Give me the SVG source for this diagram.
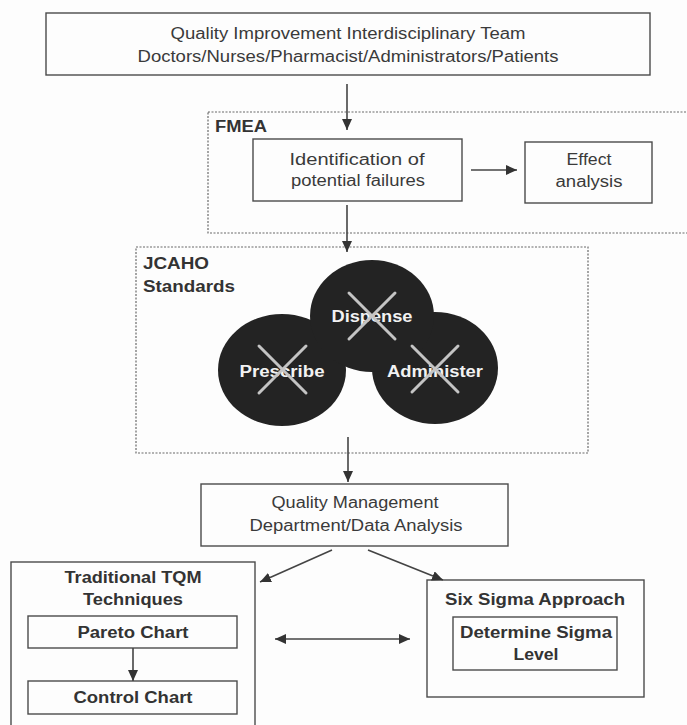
<svg xmlns="http://www.w3.org/2000/svg" width="687" height="725" viewBox="0 0 687 725">
<style>
.box{fill:none;stroke:#4a4a4a;stroke-width:1.4}
.dash{fill:none;stroke:#6a6a6a;stroke-width:1.2;stroke-dasharray:2,1.5}
.t{font-family:"Liberation Sans",Arial,sans-serif;font-size:16px;fill:#3a3a3a;text-anchor:middle}
.b{font-family:"Liberation Sans",Arial,sans-serif;font-size:16px;font-weight:bold;fill:#333}
.bc{text-anchor:middle}
.w{font-family:"Liberation Sans",Arial,sans-serif;font-size:16px;font-weight:bold;fill:#f2f2f2;text-anchor:middle}
.ln{stroke:#444;stroke-width:1.6;fill:none}
.x{stroke:#c4c4c4;stroke-width:3;stroke-linecap:round}
.c{fill:#232323}
</style>
<defs>
<marker id="ah" markerUnits="userSpaceOnUse" markerWidth="12" markerHeight="10" refX="11" refY="5" orient="auto-start-reverse">
<path d="M0,0 L11,5 L0,10 z" fill="#333"/>
</marker>
</defs>
<rect width="687" height="725" fill="#fdfdfd"/>

<g id="team">
<rect class="box" x="46" y="13" width="604" height="62"/>
<text class="t" x="348" y="39" textLength="355" lengthAdjust="spacingAndGlyphs">Quality Improvement Interdisciplinary Team</text>
<text class="t" x="348" y="62" textLength="421" lengthAdjust="spacingAndGlyphs">Doctors/Nurses/Pharmacist/Administrators/Patients</text>
</g>

<g id="fmea">
<rect class="dash" x="208" y="112" width="484" height="121"/>
<text class="b" x="215" y="132" textLength="52" lengthAdjust="spacingAndGlyphs" fill="#2a2a40">FMEA</text>
</g>

<g id="identification">
<rect class="box" x="253" y="139" width="209" height="62"/>
<text class="t" x="357" y="165" textLength="135" lengthAdjust="spacingAndGlyphs">Identification of</text>
<text class="t" x="358" y="186" textLength="134" lengthAdjust="spacingAndGlyphs">potential failures</text>
</g>

<g id="effect">
<rect class="box" x="525" y="142" width="127" height="61"/>
<text class="t" x="589" y="165" textLength="45" lengthAdjust="spacingAndGlyphs">Effect</text>
<text class="t" x="589" y="187" textLength="67" lengthAdjust="spacingAndGlyphs">analysis</text>
</g>

<g id="jcaho">
<rect class="dash" x="136" y="247" width="452" height="206"/>
<text class="b" x="143" y="269" textLength="66" lengthAdjust="spacingAndGlyphs">JCAHO</text>
<text class="b" x="143" y="292" textLength="92" lengthAdjust="spacingAndGlyphs">Standards</text>
</g>

<g id="prescribe">
<ellipse class="c" cx="282" cy="370" rx="64" ry="56"/>
</g>
<g id="administer">
<ellipse class="c" cx="435" cy="368" rx="63" ry="56"/>
</g>
<g id="dispense">
<ellipse class="c" cx="372" cy="316" rx="62" ry="56"/>
<text class="w" x="372" y="322" textLength="81" lengthAdjust="spacingAndGlyphs">Dispense</text>
<line class="x" x1="349" y1="293" x2="395" y2="339"/>
<line class="x" x1="395" y1="293" x2="349" y2="339"/>
</g>
<g id="prescribe-label">
<text class="w" x="282" y="377" textLength="85" lengthAdjust="spacingAndGlyphs">Prescribe</text>
<line class="x" x1="259" y1="346" x2="306" y2="393"/>
<line class="x" x1="306" y1="346" x2="259" y2="393"/>
</g>
<g id="administer-label">
<text class="w" x="435" y="377" textLength="96" lengthAdjust="spacingAndGlyphs">Administer</text>
<line class="x" x1="412" y1="346" x2="458" y2="392"/>
<line class="x" x1="458" y1="346" x2="412" y2="392"/>
</g>

<g id="qm">
<rect class="box" x="201" y="484" width="307" height="62"/>
<text class="t" x="355" y="508" textLength="167" lengthAdjust="spacingAndGlyphs">Quality Management</text>
<text class="t" x="356" y="531" textLength="213" lengthAdjust="spacingAndGlyphs">Department/Data Analysis</text>
</g>

<g id="tqm">
<rect class="box" x="11" y="562" width="244" height="175"/>
<text class="b bc" x="133" y="583" textLength="137" lengthAdjust="spacingAndGlyphs">Traditional TQM</text>
<text class="b bc" x="133" y="605" textLength="100" lengthAdjust="spacingAndGlyphs">Techniques</text>
</g>
<g id="pareto">
<rect class="box" x="28" y="616" width="209" height="32"/>
<text class="b bc" x="133" y="638" textLength="111" lengthAdjust="spacingAndGlyphs">Pareto Chart</text>
</g>
<g id="control">
<rect class="box" x="28" y="681" width="209" height="33"/>
<text class="b bc" x="133" y="703" textLength="119" lengthAdjust="spacingAndGlyphs">Control Chart</text>
</g>

<g id="sixsigma">
<rect class="box" x="427" y="580" width="217" height="117"/>
<text class="b bc" x="535" y="605" textLength="180" lengthAdjust="spacingAndGlyphs">Six Sigma Approach</text>
</g>
<g id="sigmalevel">
<rect class="box" x="453" y="617" width="164" height="53"/>
<text class="b bc" x="536" y="638" textLength="152" lengthAdjust="spacingAndGlyphs">Determine Sigma</text>
<text class="b bc" x="536" y="660" textLength="45" lengthAdjust="spacingAndGlyphs">Level</text>
</g>

<g id="connectors">
<line class="ln" x1="347" y1="84" x2="347" y2="130" marker-end="url(#ah)"/>
<line class="ln" x1="471" y1="170" x2="517" y2="170" marker-end="url(#ah)"/>
<line class="ln" x1="347" y1="205" x2="347" y2="252" marker-end="url(#ah)"/>
<line class="ln" x1="348" y1="437" x2="348" y2="482" marker-end="url(#ah)"/>
<line class="ln" x1="332" y1="550" x2="260" y2="582" marker-end="url(#ah)"/>
<line class="ln" x1="368" y1="550" x2="443" y2="580" marker-end="url(#ah)"/>
<line class="ln" x1="275" y1="639" x2="410" y2="639" marker-start="url(#ah)" marker-end="url(#ah)"/>
<line class="ln" x1="133" y1="648" x2="133" y2="681" marker-end="url(#ah)"/>
</g>
</svg>
